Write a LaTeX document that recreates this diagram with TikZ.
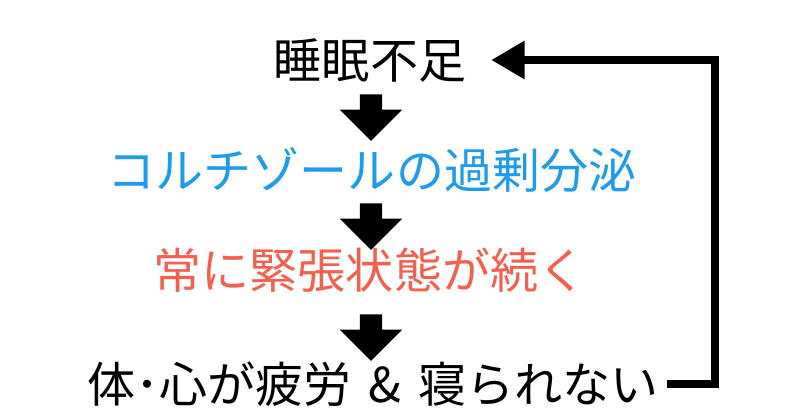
\documentclass[tikz,border=0pt]{standalone}
\usepackage{fontspec}
\newfontfamily\cjk{Noto Sans CJK JP}
\definecolor{cortblue}{HTML}{1E9BEA}
\definecolor{stressred}{HTML}{F2604F}
\usetikzlibrary{shapes.arrows, arrows.meta, positioning}
\begin{document}
\begin{tikzpicture}[x=0.03cm, y=-0.03cm]
\tikzset{stage/.style={font=\cjk\fontsize{41}{48}\selectfont, inner sep=0pt, anchor=center},
  downarrow/.style={single arrow, fill=black, rotate=270, minimum height=1.4cm, inner xsep=0pt, inner ysep=0.33cm, single arrow head extend=0.6cm}}
\useasboundingbox (0,0) rectangle (800,419);
\node[stage] (sleep) at (370,60) {睡眠不足};
\node[stage, text=cortblue] (cortisol) at (372,170) {コルチゾールの過剰分泌};
\node[stage, text=stressred] (tension) at (370,270) {常に緊張状態が続く};
\node[stage] (tired) at (373,384) {体･心が疲労\hspace{0.35em}\&\hspace{0.35em}寝られない};
\node[downarrow] (a1) at (371,112) {};
\node[downarrow] (a2) at (371,221) {};
\node[downarrow] (a3) at (371,332) {};
\coordinate (loopbot) at (715,384);
\coordinate (looptop) at (715,60);
\draw[line width=2.2mm, -{Triangle[length=1cm, width=1.1cm]}] (tired.east) ++(8,0) -- (loopbot) -- (looptop) -- ([xshift=0.75cm]sleep.east);
\end{tikzpicture}
\end{document}
